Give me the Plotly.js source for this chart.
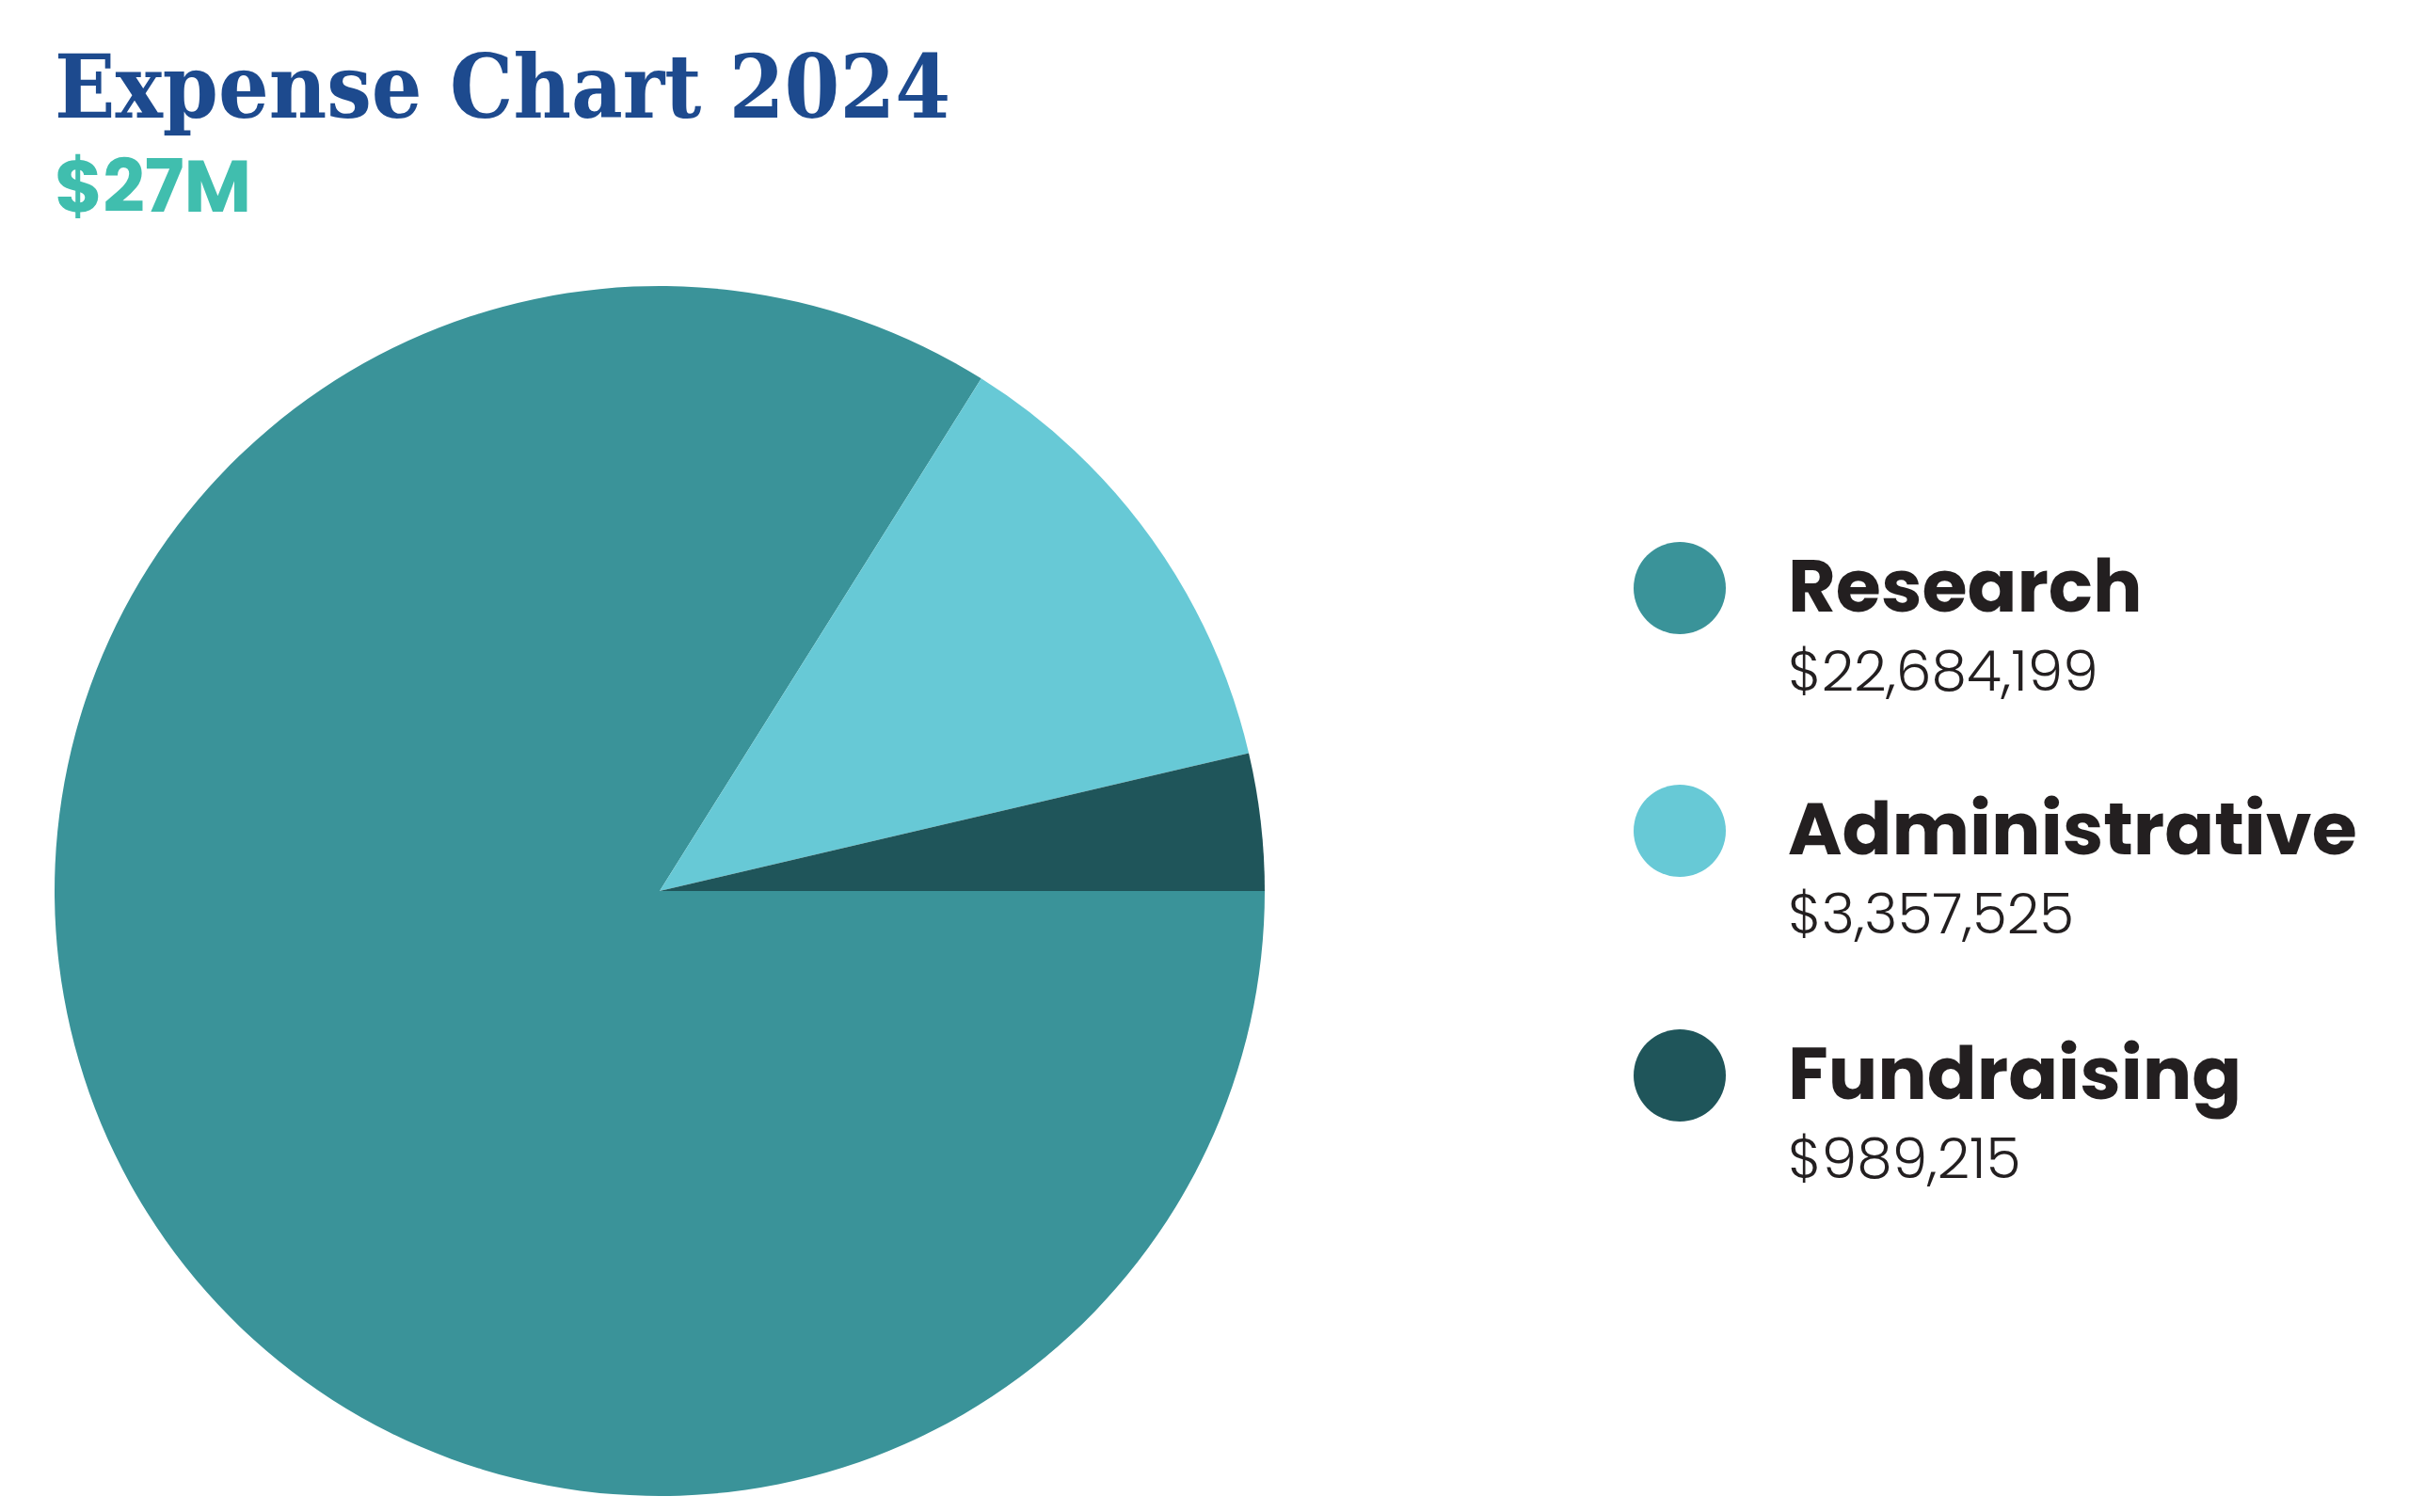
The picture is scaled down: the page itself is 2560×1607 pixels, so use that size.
<!DOCTYPE html>
<html>
<head>
<meta charset="utf-8">
<script src="https://cdn.plot.ly/plotly-3.0.1.min.js"></script>
<style>html,body{margin:0;padding:0;background:#fff;}#chart{width:2560px;height:1607px;}</style>
</head>
<body>
<div id="chart"></div>
<script>
const categories = ["Research", "Administrative", "Fundraising"];
const values = [22684199, 3357525, 989215];
const valueLabels = ["$22,684,199", "$3,357,525", "$989,215"];
const colors = ["#3A9399", "#67C9D6", "#1F555A"];
const chartTitle = "Expense Chart 2024";
const totalLabel = "$27M";

const W = 2560, H = 1607;
const px = x => x / W;
const py = y => 1 - y / H;

const legendRowY = [622, 880, 1140];
const shapes = [];
const annotations = [];
categories.forEach((c, i) => {
  const yc = legendRowY[i];
  shapes.push({
    type: "circle", xref: "paper", yref: "paper",
    xsizemode: "pixel", ysizemode: "pixel",
    xanchor: px(1785), yanchor: py(yc + 3),
    x0: -49, x1: 49, y0: -49, y1: 49,
    fillcolor: colors[i], line: {width: 0}
  });
  annotations.push({
    xref: "paper", yref: "paper", x: px(1898), y: py(yc),
    xanchor: "left", yanchor: "middle", showarrow: false,
    text: "<b>" + c + "</b>",
    font: {family: "Poppins, Lato, 'Open Sans', sans-serif", size: 78, color: "#231F20", weight: 900}
  });
  annotations.push({
    xref: "paper", yref: "paper", x: px(1898), y: py(yc + 91),
    xanchor: "left", yanchor: "middle", showarrow: false,
    text: valueLabels[i],
    font: {family: "Poppins, Lato, 'Open Sans', sans-serif", size: 60, color: "#231F20", weight: 300}
  });
});
annotations.push({
  xref: "paper", yref: "paper", x: px(56), y: py(198),
  xanchor: "left", yanchor: "middle", showarrow: false,
  text: "<b>" + totalLabel + "</b>",
  font: {family: "Poppins, Lato, 'Open Sans', sans-serif", size: 78, color: "#40BEAE"}
});

const data = [{
  type: "pie",
  labels: categories,
  values: values,
  sort: false,
  direction: "clockwise",
  rotation: 90,
  marker: {colors: colors, line: {width: 0}},
  textinfo: "none",
  hoverinfo: "label+value",
  showlegend: false,
  domain: {x: [px(701 - 643), px(701 + 643)], y: [py(947 + 643), py(947 - 643)]}
}];

const layout = {
  width: W, height: H,
  margin: {l: 0, r: 0, t: 0, b: 0},
  paper_bgcolor: "#ffffff",
  showlegend: false,
  title: {
    text: "<b>" + chartTitle + "</b>",
    xref: "paper", yref: "paper", x: px(58), y: py(92),
    xanchor: "left", yanchor: "middle",
    font: {family: "'DejaVu Serif Condensed', 'DejaVu Serif', serif", size: 94, color: "#1D4A8E"}
  },
  shapes: shapes,
  annotations: annotations
};

Plotly.newPlot("chart", data, layout, {displayModeBar: false, staticPlot: true});
</script>
</body>
</html>
